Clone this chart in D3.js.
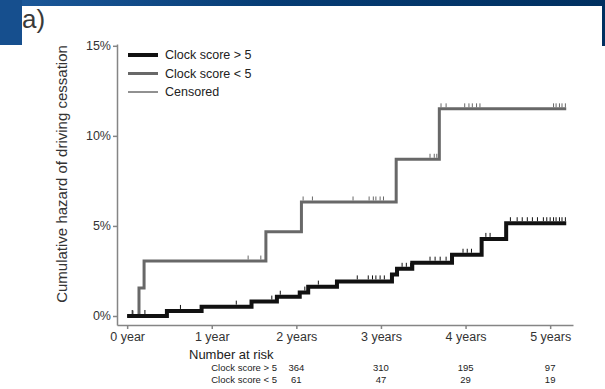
<!DOCTYPE html>
<html>
<head>
<meta charset="utf-8">
<script src="https://cdn.jsdelivr.net/npm/d3@7"></script>
<style>
  body { margin: 0; background: #fff; }
  svg { display: block; font-family: "Liberation Sans", Arial, sans-serif; }
</style>
</head>
<body>
<svg id="chart" width="605" height="389"></svg>
<script>
// step curves (years, cumulative hazard %)
const highTimes = [0, 0.47, 0.88, 1.47, 1.77, 2.04, 2.14, 2.48, 3.13, 3.19, 3.37, 3.84, 4.19, 4.48];
const highHazard = [0, 0.28, 0.52, 0.80, 1.07, 1.30, 1.63, 1.92, 2.30, 2.62, 2.96, 3.40, 4.28, 5.15];
const lowTimes = [0, 0.14, 0.20, 1.64, 2.06, 3.18, 3.69];
const lowHazard = [0, 1.55, 3.05, 4.67, 6.33, 8.70, 11.50];
const endTime = 5.19;

// censored observations
const highCensored = [0.06, 0.21, 0.63, 1.29, 1.71, 1.81, 2.10, 2.26, 2.72, 2.85, 2.90, 2.94, 2.99, 3.04,
  3.25, 3.30, 3.35, 3.58, 3.64, 3.70, 3.77, 3.97, 4.02, 4.07, 4.24, 4.29, 4.53, 4.61, 4.67, 4.73,
  4.79, 4.85, 4.92, 4.96, 5.00, 5.04, 5.07, 5.11, 5.14, 5.18];
const lowCensored = [0.07, 1.43, 1.58, 2.08, 2.19, 2.67, 2.86, 2.91, 2.94, 2.99, 3.03, 3.58, 3.63, 3.66,
  3.71, 3.77, 3.99, 4.04, 4.08, 4.13, 4.17, 5.04, 5.07, 5.11, 5.14, 5.18];

const xTicks = [0, 1, 2, 3, 4, 5];
const xTickLabels = ["0 year", "1 year", "2 years", "3 years", "4 years", "5 years"];
const yTicks = [0, 5, 10, 15];

const riskTimes = [2, 3, 4, 5];
const riskHigh = [364, 310, 195, 97];
const riskLow = [61, 47, 29, 19];

const svg = d3.select("#chart");

// header decoration
const grad = svg.append("defs").append("linearGradient").attr("id", "hdr");
grad.append("stop").attr("offset", "0%").attr("stop-color", "#1d5a9c");
grad.append("stop").attr("offset", "45%").attr("stop-color", "#063c74");
grad.append("stop").attr("offset", "100%").attr("stop-color", "#003060");
svg.append("rect").attr("x", 0).attr("y", 0).attr("width", 605).attr("height", 6).attr("fill", "url(#hdr)");
svg.append("rect").attr("x", 0).attr("y", 0).attr("width", 22).attr("height", 45).attr("fill", "#164f8e");
svg.append("rect").attr("x", 602).attr("y", 0).attr("width", 3).attr("height", 46).attr("fill", "#003060");
svg.append("text").attr("x", 22).attr("y", 28).attr("font-size", 26).attr("fill", "#3a3a3a").text("a)");

const x = d3.scaleLinear().domain([-0.12, 5.27]).range([117, 573]);
const y = d3.scaleLinear().domain([-0.5, 15.1]).range([325, 44]);

// axes
const yAxis = svg.append("g")
  .attr("transform", `translate(${x(-0.12)},0)`)
  .call(d3.axisLeft(y).tickValues(yTicks).tickSize(4).tickSizeOuter(0).tickPadding(2).tickFormat(d => d + "%"));
const xAxis = svg.append("g")
  .attr("transform", `translate(0,${y(-0.5)})`)
  .call(d3.axisBottom(x).tickValues(xTicks).tickSize(4).tickSizeOuter(0).tickPadding(3)
    .tickFormat((d, i) => xTickLabels[i]));
[yAxis, xAxis].forEach(g => {
  g.selectAll("path, line").attr("stroke", "#858585").attr("stroke-width", 1.5);
  g.selectAll("text").attr("font-size", 12.5).attr("fill", "#333").attr("font-family", null);
});

svg.append("text")
  .attr("transform", "translate(67,174) rotate(-90)")
  .attr("text-anchor", "middle").attr("font-size", 15).attr("fill", "#333")
  .text("Cumulative hazard of driving cessation");

// step lines
function stepPoints(times, haz) {
  const pts = times.map((t, i) => [t, haz[i]]);
  pts.push([endTime, haz[haz.length - 1]]);
  return pts;
}
const line = d3.line().x(d => x(d[0])).y(d => y(d[1])).curve(d3.curveStepAfter);
function hazardAt(times, haz, t) {
  const i = d3.bisectRight(times, t) - 1;
  return haz[Math.max(0, i)];
}

function drawCurve(times, haz, cens, color, width) {
  svg.append("path").datum(stepPoints(times, haz))
    .attr("fill", "none").attr("stroke", color).attr("stroke-width", width)
    .attr("stroke-linejoin", "miter").attr("d", line);
  svg.append("g").selectAll("line").data(cens).join("line")
    .attr("x1", d => x(d)).attr("x2", d => x(d))
    .attr("y1", d => y(hazardAt(times, haz, d)) - width / 2)
    .attr("y2", d => y(hazardAt(times, haz, d)) - width / 2 - 4)
    .attr("stroke", color).attr("stroke-width", 1);
}
drawCurve(lowTimes, lowHazard, lowCensored, "#686868", 3);
drawCurve(highTimes, highHazard, highCensored, "#111", 4);

// legend
const legend = [
  { label: "Clock score > 5", color: "#111", w: 4 },
  { label: "Clock score < 5", color: "#686868", w: 3 },
  { label: "Censored", color: "#222", w: 1 }
];
const lg = svg.append("g").selectAll("g").data(legend).join("g")
  .attr("transform", (d, i) => `translate(128,${55 + i * 18.5})`);
lg.append("line").attr("x1", 0).attr("x2", 30).attr("stroke", d => d.color).attr("stroke-width", d => d.w);
lg.append("text").attr("x", 37).attr("dy", "0.35em").attr("font-size", 12.5).attr("fill", "#222").text(d => d.label);

// number at risk
svg.append("text").attr("x", 189).attr("y", 359).attr("font-size", 13).attr("fill", "#222").text("Number at risk");
const rows = [{ label: "Clock score > 5", vals: riskHigh, yy: 371 }, { label: "Clock score < 5", vals: riskLow, yy: 383 }];
rows.forEach(r => {
  svg.append("text").attr("x", 277).attr("y", r.yy).attr("text-anchor", "end")
    .attr("font-size", 9.5).attr("fill", "#222").text(r.label);
  svg.append("g").selectAll("text").data(r.vals).join("text")
    .attr("x", (d, i) => x(riskTimes[i])).attr("y", r.yy).attr("text-anchor", "middle")
    .attr("font-size", 9.5).attr("fill", "#222").text(d => d);
});
</script>
</body>
</html>
